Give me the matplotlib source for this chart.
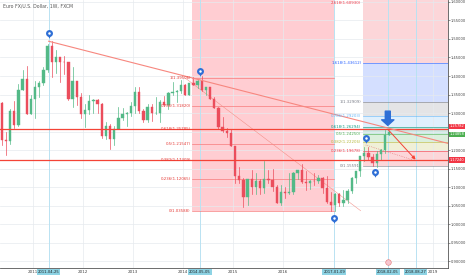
import matplotlib
matplotlib.use('Agg')
import matplotlib.pyplot as plt
import matplotlib.transforms as mtransforms
from matplotlib.patches import Rectangle
from datetime import date

# monthly EUR/USD candles
months = ['2010-05', '2010-06', '2010-07', '2010-08', '2010-09', '2010-10', '2010-11', '2010-12',
          '2011-01', '2011-02', '2011-03', '2011-04', '2011-05', '2011-06', '2011-07', '2011-08',
          '2011-09', '2011-10', '2011-11', '2011-12', '2012-01', '2012-02', '2012-03', '2012-04',
          '2012-05', '2012-06', '2012-07', '2012-08', '2012-09', '2012-10', '2012-11', '2012-12',
          '2013-01', '2013-02', '2013-03', '2013-04', '2013-05', '2013-06', '2013-07', '2013-08',
          '2013-09', '2013-10', '2013-11', '2013-12', '2014-01', '2014-02', '2014-03', '2014-04',
          '2014-05', '2014-06', '2014-07', '2014-08', '2014-09', '2014-10', '2014-11', '2014-12',
          '2015-01', '2015-02', '2015-03', '2015-04', '2015-05', '2015-06', '2015-07', '2015-08',
          '2015-09', '2015-10', '2015-11', '2015-12', '2016-01', '2016-02', '2016-03', '2016-04',
          '2016-05', '2016-06', '2016-07', '2016-08', '2016-09', '2016-10', '2016-11', '2016-12',
          '2017-01', '2017-02', '2017-03', '2017-04', '2017-05', '2017-06', '2017-07', '2017-08',
          '2017-09', '2017-10', '2017-11', '2017-12', '2018-01', '2018-02']
opens = [1.3270, 1.2270, 1.2236, 1.3048, 1.2680, 1.3630, 1.3930, 1.2985,
         1.3380, 1.3690, 1.3800, 1.4160, 1.4800, 1.4390, 1.4500, 1.4390,
         1.4380, 1.3390, 1.3860, 1.3440, 1.2960, 1.3080, 1.3320, 1.3340,
         1.3240, 1.2370, 1.2660, 1.2300, 1.2580, 1.2860, 1.2970, 1.2990,
         1.3190, 1.3580, 1.3060, 1.2820, 1.3170, 1.2990, 1.3010, 1.3300,
         1.3220, 1.3530, 1.3580, 1.3590, 1.3750, 1.3490, 1.3800, 1.3770,
         1.3870, 1.3630, 1.3690, 1.3390, 1.3130, 1.2630, 1.2520, 1.2450,
         1.2100, 1.1290, 1.1200, 1.0730, 1.1220, 1.0990, 1.1150, 1.0980,
         1.1210, 1.1180, 1.1000, 1.0570, 1.0860, 1.0830, 1.0870, 1.1380,
         1.1450, 1.1130, 1.1100, 1.1170, 1.1150, 1.1240, 1.0980, 1.0590,
         1.0520, 1.0800, 1.0570, 1.0650, 1.0900, 1.1240, 1.1420, 1.1830,
         1.1910, 1.1810, 1.1650, 1.1900, 1.2000, 1.2410]
highs = [1.3290, 1.2474, 1.3113, 1.3334, 1.3787, 1.4157, 1.4282, 1.3500,
         1.3860, 1.3862, 1.4250, 1.4860, 1.4940, 1.4700, 1.4520, 1.4550,
         1.4390, 1.4250, 1.3870, 1.3550, 1.3230, 1.3490, 1.3385, 1.3380,
         1.3280, 1.2750, 1.2690, 1.2640, 1.3170, 1.3140, 1.3030, 1.3310,
         1.3710, 1.3710, 1.3120, 1.3240, 1.3240, 1.3420, 1.3350, 1.3450,
         1.3570, 1.3830, 1.3620, 1.3890, 1.3775, 1.3820, 1.3965, 1.3900,
         1.3990, 1.3700, 1.3700, 1.3440, 1.3150, 1.2890, 1.2600, 1.2570,
         1.2100, 1.1530, 1.1230, 1.1000, 1.1460, 1.1390, 1.1220, 1.1710,
         1.1460, 1.1500, 1.1050, 1.1050, 1.0990, 1.1380, 1.1400, 1.1470,
         1.1620, 1.1430, 1.1180, 1.1370, 1.1330, 1.1260, 1.1300, 1.0870,
         1.0830, 1.0830, 1.0910, 1.0950, 1.1270, 1.1440, 1.1850, 1.2070,
         1.2090, 1.1880, 1.1960, 1.2020, 1.2537, 1.2520]
lows = [1.2143, 1.1876, 1.2150, 1.2588, 1.2652, 1.3612, 1.2969, 1.2970,
        1.2860, 1.3430, 1.3750, 1.4100, 1.3970, 1.4070, 1.3840, 1.4050,
        1.3360, 1.3150, 1.3210, 1.2860, 1.2620, 1.2975, 1.3000, 1.3000,
        1.2330, 1.2290, 1.2040, 1.2130, 1.2560, 1.2800, 1.2660, 1.2920,
        1.2990, 1.3000, 1.2750, 1.2750, 1.2790, 1.2960, 1.2750, 1.3200,
        1.3100, 1.3480, 1.3300, 1.3550, 1.3480, 1.3480, 1.3750, 1.3670,
        1.3590, 1.3500, 1.3370, 1.3130, 1.2570, 1.2500, 1.2360, 1.2100,
        1.1100, 1.1100, 1.0460, 1.0520, 1.0820, 1.0820, 1.0810, 1.0850,
        1.1100, 1.0900, 1.0560, 1.0520, 1.0710, 1.0810, 1.0820, 1.1210,
        1.1100, 1.0910, 1.0950, 1.1050, 1.1120, 1.0850, 1.0570, 1.0350,
        1.0340, 1.0490, 1.0490, 1.0570, 1.0840, 1.1120, 1.1310, 1.1690,
        1.1720, 1.1580, 1.1550, 1.1720, 1.1915, 1.2400]
closes = [1.2270, 1.2236, 1.3048, 1.2680, 1.3630, 1.3930, 1.2985, 1.3380,
          1.3690, 1.3800, 1.4160, 1.4800, 1.4390, 1.4500, 1.4390, 1.4380,
          1.3390, 1.3860, 1.3440, 1.2960, 1.3080, 1.3320, 1.3340, 1.3240,
          1.2370, 1.2660, 1.2300, 1.2580, 1.2860, 1.2970, 1.2990, 1.3190,
          1.3580, 1.3060, 1.2820, 1.3170, 1.2990, 1.3010, 1.3300, 1.3220,
          1.3530, 1.3580, 1.3590, 1.3750, 1.3490, 1.3800, 1.3770, 1.3870,
          1.3630, 1.3690, 1.3390, 1.3130, 1.2630, 1.2520, 1.2450, 1.2100,
          1.1290, 1.1200, 1.0730, 1.1220, 1.0990, 1.1150, 1.0980, 1.1210,
          1.1180, 1.1000, 1.0570, 1.0860, 1.0830, 1.0870, 1.1380, 1.1450,
          1.1130, 1.1100, 1.1170, 1.1150, 1.1240, 1.0980, 1.0590, 1.0520,
          1.0800, 1.0570, 1.0650, 1.0900, 1.1240, 1.1420, 1.1830, 1.1910,
          1.1810, 1.1650, 1.1900, 1.2000, 1.2410, 1.2486]

# drawings
fib1_dates = ['2014-03-10', '2017-01-09']
fib1_prices = [1.03588, 1.39506]          # level 0, level 1
fib1_levels = [0, 0.236, 0.382, 0.5, 0.618, 0.786, 1, 1.618]
fib2_start = '2017-08-07'
fib2_prices = [1.15591, 1.32909]
fib2_levels = [0, 0.236, 0.382, 0.5, 0.618, 0.786, 1, 1.618, 2.618]
fib2_colors = ['#787b86', '#f23645', '#b5b83a', '#4caf50', '#089981',
               '#64b5f6', '#787b86', '#2962ff', '#f23645']
hlines = [1.25782, 1.17240]
trend_pts = [('2011-04-25', 1.4940), ('2018-02-05', 1.2595)]
diag_pts = [('2014-01-15', 1.39506), ('2017-07-22', 1.03588)]
dotted_pts = [('2017-08-28', 1.2135), ('2018-09-01', 1.1703)]
arrow_pts = [('2018-02-05', 1.2560), ('2018-08-27', 1.1740)]
pins = [('2011-04-25', 1.5162), ('2014-05-05', 1.4135), ('2017-08-29', 1.2324),
        ('2017-11-03', 1.1405), ('2017-01-09', 1.0162)]
marked_dates = ['2011-04-25', '2014-05-05', '2017-01-09', '2018-02-05', '2018-08-27']
years = [2011, 2012, 2013, 2014, 2015, 2016, 2019]
price_ticks = [0.90, 0.95, 1.00, 1.05, 1.10, 1.15, 1.20, 1.25, 1.30, 1.35,
               1.40, 1.45, 1.50, 1.55, 1.60]
price_boxes = [1.25782, 1.24858, 1.17240]
price_box_colors = ['#f23645', '#4caf50', '#f23645']

UP, DOWN = '#53b987', '#eb4d5c'
RED = '#f44336'


def dec(s):
    y, m, d = map(int, s.split('-'))
    return y + (date(y, m, d) - date(y, 1, 1)).days / 365.25


def month_x(s):
    y, m = map(int, s.split('-'))
    return y + (m - 0.5) / 12


def main():
    fig = plt.figure(figsize=(4.66, 2.75), dpi=100)
    ax = fig.add_axes([0, 7 / 275, 448 / 466, 268 / 275])
    x0, x1 = 2010.34, 2019.30
    y0, y1 = 0.8811, 1.6054
    ax.set_xlim(x0, x1)
    ax.set_ylim(y0, y1)
    top_lbl = y1 - 2.5 / 370   # keep labels at the very top readable

    # grid + axes
    ax.set_xticks(years)
    ax.set_xticklabels([str(y) for y in years])
    ax.set_yticks(price_ticks)
    # 1.25 is hidden behind the price boxes in the original
    ax.set_yticklabels(['' if abs(p - 1.25) < 1e-9 else '%.5f' % p for p in price_ticks])
    ax.yaxis.tick_right()
    ax.tick_params(axis='x', length=0, labelsize=3, pad=1.5, colors='#444')
    ax.tick_params(axis='y', length=1.2, width=0.4, labelsize=2.6, pad=0.6, colors='#444')
    ax.grid(color='#e6eaee', lw=0.5)
    ax.set_axisbelow(False)
    for s in ['top', 'left']:
        ax.spines[s].set_visible(False)
    for s in ['right', 'bottom']:
        ax.spines[s].set_color('#555')
        ax.spines[s].set_linewidth(0.6)

    for d in marked_dates:
        ax.axvline(dec(d), color='#b9e2f2', lw=0.7, zorder=2.6)

    # fib retracement 1 (single red colour)
    fa, fb = dec(fib1_dates[0]), dec(fib1_dates[1])
    p0, p1 = fib1_prices
    lv = [p0 + l * (p1 - p0) for l in fib1_levels]
    ax.add_patch(Rectangle((fa, lv[0]), fb - fa, lv[-1] - lv[0], facecolor='#ffcdd2',
                           edgecolor='none', zorder=0.3))
    for l, p in zip(fib1_levels, lv):
        ax.plot([fa, fb], [p, p], color='#f77b7b', lw=0.5, zorder=2.7)
        if p < y1:
            ax.text(fa - 0.03, p, '%g(%.5f)' % (l, p), color='#e53935', fontsize=2.8,
                    ha='right', va='center', zorder=5)

    # fib retracement 2 (coloured zones, extended right)
    fa = dec(fib2_start)
    p0, p1 = fib2_prices
    lv = [p0 + l * (p1 - p0) for l in fib2_levels]
    for i in range(1, len(lv)):
        ax.add_patch(Rectangle((fa, lv[i - 1]), x1 - fa, lv[i] - lv[i - 1],
                               facecolor=fib2_colors[i], alpha=0.2, edgecolor='none',
                               zorder=0.3))
    for l, p, c in zip(fib2_levels, lv, fib2_colors):
        ax.plot([fa, x1], [p, p], color=c, lw=0.5, alpha=0.8, zorder=2.7)
        ax.text(fa - 0.03, min(p, top_lbl), '%g(%.5f)' % (l, p), color=c, fontsize=2.8,
                ha='right', va='center', zorder=5)

    # candles
    w = 0.6 / 12
    for m, o, h, lo, c in zip(months, opens, highs, lows, closes):
        x = month_x(m)
        col = UP if c >= o else DOWN
        ax.plot([x, x], [lo, h], color=col, lw=0.5, zorder=3)
        ax.add_patch(Rectangle((x - w / 2, min(o, c)), w, max(abs(c - o), 0.001),
                               facecolor=col, edgecolor=col, lw=0.3, zorder=3.1))

    # horizontal lines
    for p in hlines:
        ax.axhline(p, color=RED, lw=0.9, zorder=4)

    # trend line from the 2011 top, extended to the right edge
    (da, pa), (db, pb) = trend_pts
    xa, xb = dec(da), dec(db)
    slope = (pb - pa) / (xb - xa)
    ax.plot([xa, x1], [pa, pa + slope * (x1 - xa)], color='#f7877f', lw=0.8, zorder=4)

    (da, pa), (db, pb) = diag_pts
    ax.plot([dec(da), dec(db)], [pa, pb], color='#f28b82', lw=0.35, zorder=2.8)
    (da, pa), (db, pb) = dotted_pts
    ax.plot([dec(da), dec(db)], [pa, pb], color='#e57373', lw=0.5, ls=':', zorder=2.8)

    # red arrow
    (da, pa), (db, pb) = arrow_pts
    ax.annotate('', xy=(dec(db), pb), xytext=(dec(da), pa),
                arrowprops=dict(arrowstyle='-|>', color=RED, lw=0.7,
                                mutation_scale=5, shrinkA=0, shrinkB=0), zorder=5)

    # blue down arrow above the last bar
    xd = dec('2018-02-05')
    ax.annotate('', xy=(xd, 1.2665), xytext=(xd, 1.3050),
                arrowprops=dict(arrowstyle='simple,head_length=0.5,head_width=1.1,tail_width=0.45',
                                color='#2f6fd6', mutation_scale=8, shrinkA=0, shrinkB=0),
                zorder=6)

    # pins
    for d, p in pins:
        x = dec(d)
        ax.plot(x, p - 0.009, marker='v', ms=3.2, color='#2f6fd6', mec='none', zorder=6)
        ax.plot(x, p, marker='o', ms=5, color='#2f6fd6', mec='none', zorder=6)
        ax.plot(x, p, marker='o', ms=1.8, color='white', mec='none', zorder=6.1)

    # small event icon on the bottom
    ax.plot(xd, 0.8973, marker='o', ms=4, mfc='#f6c6cf', mec='#e57373', mew=0.4, zorder=6)

    # date boxes on the time axis
    tr = mtransforms.blended_transform_factory(ax.transData, ax.transAxes)
    for d in marked_dates:
        ax.text(dec(d), -0.016, d, transform=tr, fontsize=2.7, color='#222',
                ha='center', va='center', clip_on=False, zorder=7,
                bbox=dict(boxstyle='square,pad=0.25', fc='#8dd3e4', ec='none'))

    # price boxes on the right axis
    tr2 = mtransforms.blended_transform_factory(ax.transAxes, ax.transData)
    for p, c, dy in zip(price_boxes, price_box_colors, [1.6, -1.6, 0]):
        ax.annotate('%.5f' % p, xy=(1.0, p), xycoords=tr2, xytext=(1.2, dy),
                    textcoords='offset points', fontsize=2.6, color='white',
                    ha='left', va='center', annotation_clip=False, zorder=7,
                    bbox=dict(boxstyle='square,pad=0.2', fc=c, ec='none'))

    fig.text(3 / 466, 1 - 6 / 275, 'Euro FX/U.S. Dollar, 1W, FXCM', fontsize=3.3,
             color='#555', ha='left', va='center')

    fig.savefig('out.png', dpi=100)


if __name__ == '__main__':
    main()
